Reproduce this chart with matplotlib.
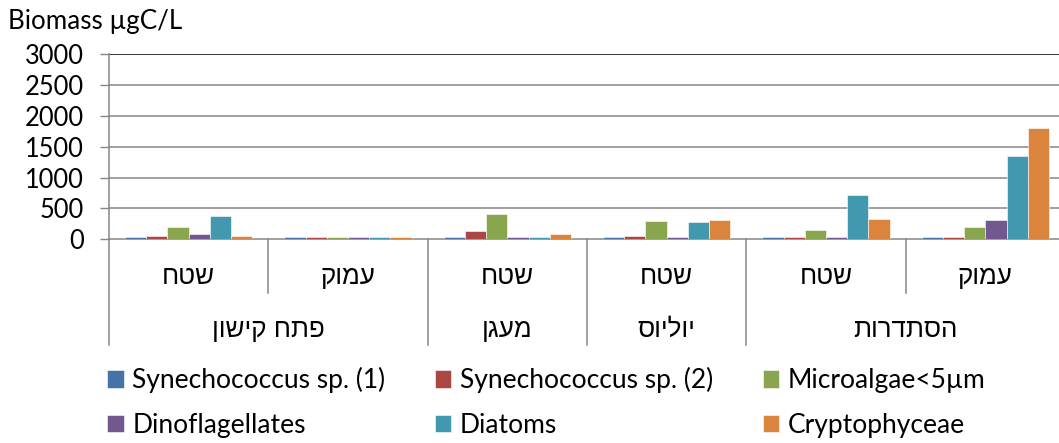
import matplotlib
matplotlib.use("Agg")
import matplotlib.pyplot as plt
import numpy as np

# ---- data ----
sites_inner = ["שטח", "עמוק", "שטח", "שטח", "שטח", "עמוק"]
sites_outer = ["פתח קישון", "מעגן", "יוליוס", "הסתדרות"]
outer_span = [(0, 1), (2, 2), (3, 3), (4, 5)]
series_names = ["Synechococcus sp. (1)", "Synechococcus sp. (2)", "Microalgae<5µm",
                "Dinoflagellates", "Diatoms", "Cryptophyceae"]
syn1 = [38, 35, 38, 38, 38, 38]
syn2 = [60, 35, 130, 60, 35, 35]
micro = [195, 35, 410, 292, 150, 195]
dino = [80, 35, 35, 35, 35, 313]
diatoms = [385, 35, 35, 287, 713, 1346]
crypto = [60, 35, 87, 313, 335, 1811]
series = [syn1, syn2, micro, dino, diatoms, crypto]
colors = ["#4572A7", "#AA4643", "#89A54E", "#71588F", "#4198AF", "#DB843D"]
yticks = [0, 500, 1000, 1500, 2000, 2500, 3000]
ylabel = "Biomass µgC/L"

W, H = 1059, 443
LAT = ["Lato", "DejaVu Sans"]
HEB = ["Liberation Sans Narrow", "Liberation Sans", "DejaVu Sans"]
GRAY = "#868686"


def rtl(s):
    return s[::-1]


def px(v):
    return v * 0.72


fig = plt.figure(figsize=(W / 100, H / 100), dpi=100)
x0, x1, ytop, y0 = 109, 1065, 54.3, 239.3
ax = fig.add_axes([x0 / W, (H - y0) / H, (x1 - x0) / W, (y0 - ytop) / H])

n = len(syn1)
x = np.arange(n)
bw = 0.133
for i, (vals, c, name) in enumerate(zip(series, colors, series_names)):
    ax.bar(x + (i - 2.5) * bw, vals, width=bw, color=c, edgecolor="white",
           linewidth=0.4, label=name, zorder=3)

ax.set_xlim(-0.5, n - 0.5)
ax.set_ylim(0, 3000)
ax.set_yticks(yticks)
ax.set_yticklabels([str(t) for t in yticks], fontfamily=LAT, fontsize=px(25.5))
ax.tick_params(axis="y", length=6.5, width=1, color=GRAY, pad=11.5)
ax.set_xticks([])
for t in yticks[1:]:
    ax.axhline(t, color="black" if t == 3000 else GRAY, lw=1.1, zorder=1)
for s in ["top", "right"]:
    ax.spines[s].set_visible(False)
ax.spines["left"].set_color(GRAY)
ax.spines["bottom"].set_color(GRAY)
ax.spines["left"].set_linewidth(1.1)
ax.spines["bottom"].set_linewidth(1.1)
ax.spines["bottom"].set_zorder(2)

# category table
trans = ax.get_xaxis_transform()
h = y0 - ytop
r1 = (y0 - 293) / h
r2 = (y0 - 345) / h
ax.plot([-0.5, -0.5], [0, r2], transform=trans, color=GRAY, lw=1.1, clip_on=False)
for b in range(1, n):
    outer_bound = any(b == s for s, e in outer_span)
    ax.plot([b - 0.5, b - 0.5], [0, r2 if outer_bound else r1], transform=trans,
            color=GRAY, lw=1.1, clip_on=False)
for i, lab in enumerate(sites_inner):
    ax.text(i, (y0 - 277) / h, rtl(lab), transform=trans, ha="center", va="center",
            fontfamily=HEB, fontsize=px(26))
for lab, (s, e) in zip(sites_outer, outer_span):
    ax.text((s + e) / 2, (y0 - 330) / h, rtl(lab), transform=trans, ha="center",
            va="center", fontfamily=HEB, fontsize=px(26))

fig.text(8 / W, 1 - 21 / H, ylabel, ha="left", va="center", fontfamily=LAT,
         fontsize=px(26))

handles, labels = ax.get_legend_handles_labels()
order = [0, 3, 1, 4, 2, 5]
fig.legend([handles[i] for i in order], [labels[i] for i in order], ncol=3,
           loc="upper left", bbox_to_anchor=(94 / W, 1 - 354 / H), frameon=False,
           prop={"family": LAT, "size": px(26.4)}, handlelength=0.62, handleheight=0.62,
           handletextpad=0.33, columnspacing=1.88, labelspacing=0.73, borderpad=0)

fig.savefig("out.png", dpi=100)
